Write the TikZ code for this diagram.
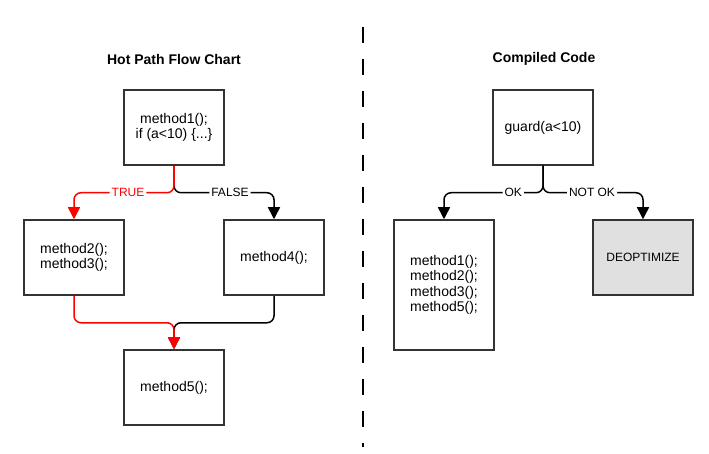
\documentclass[tikz,border=0pt]{standalone}
\usepackage{fontspec}
\setmainfont{Liberation Sans}
\usetikzlibrary{arrows.meta}
\definecolor{deoptgray}{HTML}{E0E0E0}
\definecolor{boxline}{HTML}{333333}
\tikzset{
  codebox/.style={draw=boxline,line width=1.5pt,minimum width=100pt,minimum height=75pt,
    align=center,inner sep=0pt,font=\fontsize{14}{15.5}\selectfont},
  flow/.style={line width=1.5pt,rounded corners=7pt,-{Triangle[width=12pt,length=12pt]}},
  flowlabel/.style={fill=white,inner sep=2pt,font=\fontsize{12}{14}\selectfont},
  heading/.style={font=\bfseries\fontsize{14}{16}\selectfont}
}
\begin{document}
\begin{tikzpicture}[x=1pt,y=-1pt]
  \useasboundingbox (0,0) rectangle (709,454);
  \def\drop{27}
  % hot path
  \node[heading] (hottitle) at (174,59) {Hot Path Flow Chart};
  \node[codebox] (m1) at (174,127.5) {method1();\\if (a<10) \{...\}};
  \node[codebox] (m23) at (74,257.5) {method2();\\method3();};
  \node[codebox] (m4) at (274,257.5) {method4();};
  \node[codebox] (m5) at (174,387.5) {method5();};
  \draw[flow] (m1.south) -- ++(0,\drop) -| node[flowlabel,pos=0.28] {FALSE} (m4.north);
  \draw[flow,red] (m1.south) -- ++(0,\drop) -| node[flowlabel,pos=0.23] {TRUE} (m23.north);
  \draw[flow] (m4.south) -- ++(0,\drop) -| (m5.north);
  \draw[flow,red] (m23.south) -- ++(0,\drop) -| (m5.north);
  % divider
  \coordinate (divtop) at (363,27);
  \coordinate (divbot) at (363,447);
  \draw[line width=2pt,dash pattern=on 16pt off 16pt] (divtop) -- (divbot);
  % compiled code
  \node[heading] (comptitle) at (544,59) {Compiled Code};
  \node[codebox] (guard) at (543,127.5) {guard(a<10)};
  \node[codebox,minimum height=130pt] (inlined) at (444,285) {method1();\\method2();\\method3();\\method5();};
  \node[codebox,fill=deoptgray,font=\fontsize{12}{14}\selectfont] (deopt) at (643,257.5) {DEOPTIMIZE};
  \draw[flow] (guard.south) -- ++(0,\drop) -| node[flowlabel,pos=0.15] {OK} (inlined.north);
  \draw[flow] (guard.south) -- ++(0,\drop) -| node[flowlabel,pos=0.245] {NOT OK} (deopt.north);
\end{tikzpicture}
\end{document}
